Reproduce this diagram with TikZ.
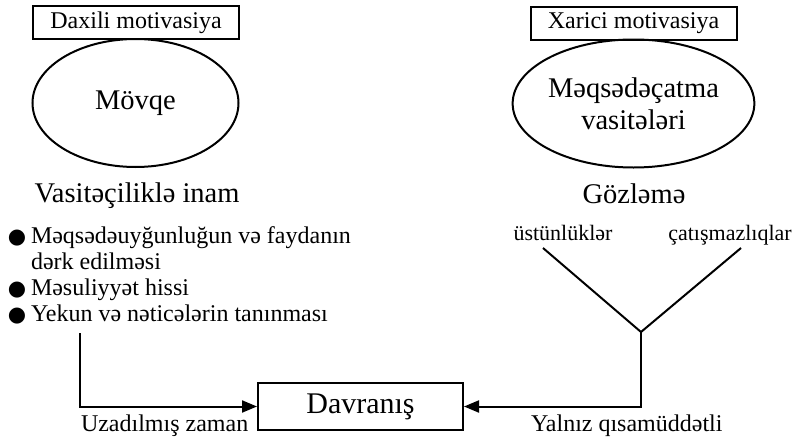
\documentclass[tikz,border=0pt]{standalone}
\usepackage{fontspec}
\setmainfont{Liberation Serif}
\newfontfamily\symfont{DejaVu Sans}
\usetikzlibrary{arrows.meta,shapes.geometric}

\begin{document}
\begin{tikzpicture}[x=1pt,y=-1pt,
  line width=2pt,
  labelbox/.style={draw,rectangle,minimum width=206pt,minimum height=33pt,
    inner sep=0pt,font=\fontsize{24}{28}\selectfont},
  oval/.style={draw,ellipse,minimum width=206pt,minimum height=128pt,
    inner sep=0pt,align=center,font=\fontsize{28.5}{32}\selectfont},
  big/.style={font=\fontsize{28.5}{32}\selectfont,inner sep=0pt,anchor=base},
  mid/.style={font=\fontsize{24}{27}\selectfont,inner sep=0pt,anchor=base west},
  small/.style={font=\fontsize{22}{26}\selectfont,inner sep=0pt,anchor=base},
  dot/.style={font=\symfont\fontsize{21}{24}\selectfont,inner sep=0pt,anchor=base west},
  actbox/.style={draw,rectangle,minimum width=205pt,minimum height=47pt,
    inner sep=0pt,font=\fontsize{30}{34}\selectfont},
  arr/.style={-{Triangle[length=15pt,width=12pt]}},
]
\useasboundingbox (0,0) rectangle (806,439);

% intrinsic motivation column
\node[labelbox] (inner) at (136,22.5) {Daxili motivasiya};
\node[oval] (pos) at (135.5,103) {Mövqe};
\node[big] (belief) at (137,202) {Vasitəçiliklə inam};
\node[dot] (d1) at (7,243) {●};
\node[mid] (b1) at (30,243) {Məqsədəuyğunluğun və faydanın};
\node[mid] (b1b) at (30,269) {dərk edilməsi};
\node[dot] (d2) at (7,295) {●};
\node[mid] (b2) at (30,295) {Məsuliyyət hissi};
\node[dot] (d3) at (7,321) {●};
\node[mid] (b3) at (30,321) {Yekun və nəticələrin tanınması};

% extrinsic motivation column
\node[labelbox] (outer) at (633.5,23) {Xarici motivasiya};
\node[oval] (means) at (633.5,103.5) {Məqsədəçatma\\vasitələri};
\node[big] (expect) at (634,203) {Gözləmə};
\node[small] (pro) at (563,240) {üstünlüklər};
\node[small] (con) at (730,240) {çatışmazlıqlar};

% behaviour
\node[actbox] (act) at (360.5,406.5) {Davranış};
\node[mid] (late) at (80,431) {Uzadılmış zaman};
\node[mid] (short) at (530,431) {Yalnız qısamüddətli};

% connectors
\coordinate (lstart) at (80,333);
\draw[arr] (lstart) |- (act.west);
\coordinate (yl) at (543,248);
\coordinate (yr) at (741,248);
\coordinate (yj) at (641,332);
\draw (yl) -- (yj) -- (yr);
\draw[arr] (yj) |- (act.east);
\end{tikzpicture}
\end{document}
